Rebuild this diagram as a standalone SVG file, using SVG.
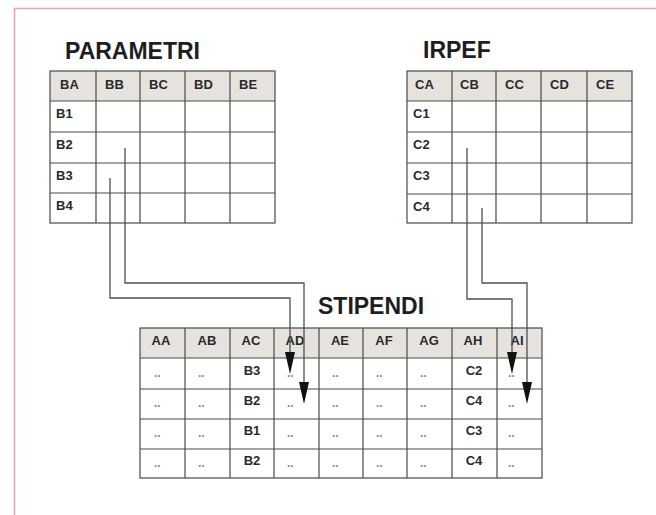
<svg xmlns="http://www.w3.org/2000/svg" width="656" height="515" viewBox="0 0 656 515">
<style>
.title{font-family:"Liberation Sans",Arial,sans-serif;font-weight:bold;font-size:23px;fill:#1e1e1e}
.c{font-family:"Liberation Sans",Arial,sans-serif;font-weight:bold;font-size:13px;fill:#2a2a2a}
.cm{font-family:"Liberation Sans",Arial,sans-serif;font-weight:bold;font-size:13px;fill:#2a2a2a;text-anchor:middle}
.d{font-family:"Liberation Sans",Arial,sans-serif;font-weight:bold;font-size:12px;fill:#8a8a8a}
.hdr{fill:#e6e3df}
.grid{stroke:#4a4a4a;stroke-width:1.2;fill:none}
.conn{stroke:#505050;stroke-width:1.3;fill:none}
.head{fill:#111}
</style>
<rect width="656" height="515" fill="#fff"/>
<path d="M656,8.5 H14.5 V515" stroke="#e8a2ba" stroke-width="1.6" fill="none"/>

<g id="parametri">
<text class="title" x="65" y="59">PARAMETRI</text>
<rect class="hdr" x="50" y="71" width="225" height="30"/>
<rect class="grid" x="50" y="71" width="225" height="152"/>
<path class="grid" d="M50,101H275M50,132H275M50,163H275M50,193H275M96,71V223M140,71V223M185,71V223M230,71V223"/>
<text class="c" x="60" y="89">BA</text><text class="c" x="105" y="89">BB</text><text class="c" x="149" y="89">BC</text><text class="c" x="194" y="89">BD</text><text class="c" x="239" y="89">BE</text>
<text class="c" x="56" y="118">B1</text><text class="c" x="56" y="149">B2</text><text class="c" x="56" y="180">B3</text><text class="c" x="56" y="210">B4</text>
</g>

<g id="irpef">
<text class="title" x="423" y="58">IRPEF</text>
<rect class="hdr" x="407" y="71" width="225" height="30"/>
<rect class="grid" x="407" y="71" width="225" height="152"/>
<path class="grid" d="M407,101H632M407,132H632M407,163H632M407,194H632M452,71V223M496,71V223M541,71V223M587,71V223"/>
<text class="c" x="415" y="89">CA</text><text class="c" x="460" y="89">CB</text><text class="c" x="505" y="89">CC</text><text class="c" x="550" y="89">CD</text><text class="c" x="596" y="89">CE</text>
<text class="c" x="413" y="118">C1</text><text class="c" x="413" y="149">C2</text><text class="c" x="413" y="180">C3</text><text class="c" x="413" y="211">C4</text>
</g>

<g id="stipendi">
<text class="title" x="318" y="314">STIPENDI</text>
<rect class="hdr" x="140" y="328" width="402" height="30"/>
<rect class="grid" x="140" y="328" width="402" height="150"/>
<path class="grid" d="M140,358H542M140,389H542M140,419H542M140,449H542M185,328V478M230,328V478M274,328V478M319,328V478M363,328V478M407,328V478M452,328V478M497,328V478"/>
<text class="cm" x="161" y="345">AA</text><text class="cm" x="207" y="345">AB</text><text class="cm" x="251" y="345">AC</text><text class="cm" x="295" y="345">AD</text><text class="cm" x="340" y="345">AE</text><text class="cm" x="384" y="345">AF</text><text class="cm" x="429" y="345">AG</text><text class="cm" x="473" y="345">AH</text><text class="cm" x="517" y="345">AI</text>
<g class="d">
<text x="154" y="377">..</text><text x="198" y="377">..</text><text x="287" y="377">..</text><text x="332" y="377">..</text><text x="376" y="377">..</text><text x="420" y="377">..</text><text x="508" y="377">..</text>
<text x="154" y="407">..</text><text x="198" y="407">..</text><text x="287" y="407">..</text><text x="332" y="407">..</text><text x="376" y="407">..</text><text x="420" y="407">..</text><text x="508" y="407">..</text>
<text x="154" y="437">..</text><text x="198" y="437">..</text><text x="287" y="437">..</text><text x="332" y="437">..</text><text x="376" y="437">..</text><text x="420" y="437">..</text><text x="508" y="437">..</text>
<text x="154" y="467">..</text><text x="198" y="467">..</text><text x="287" y="467">..</text><text x="332" y="467">..</text><text x="376" y="467">..</text><text x="420" y="467">..</text><text x="508" y="467">..</text>
</g>
<text class="cm" x="252" y="375">B3</text><text class="cm" x="252" y="405">B2</text><text class="cm" x="252" y="435">B1</text><text class="cm" x="252" y="465">B2</text>
<text class="cm" x="474" y="375">C2</text><text class="cm" x="474" y="405">C4</text><text class="cm" x="474" y="435">C3</text><text class="cm" x="474" y="465">C4</text>
</g>

<g id="connectors">
<path class="conn" d="M110,178V298H290V360"/>
<path class="conn" d="M125,148V283H304V390"/>
<path class="conn" d="M467,148V299H512V360"/>
<path class="conn" d="M482,208V283H527V390"/>
<polygon class="head" points="285,352 295,352 290,374"/>
<polygon class="head" points="299,382 309,382 304,404"/>
<polygon class="head" points="507,352 517,352 512,374"/>
<polygon class="head" points="522,382 532,382 527,404"/>
</g>
</svg>
